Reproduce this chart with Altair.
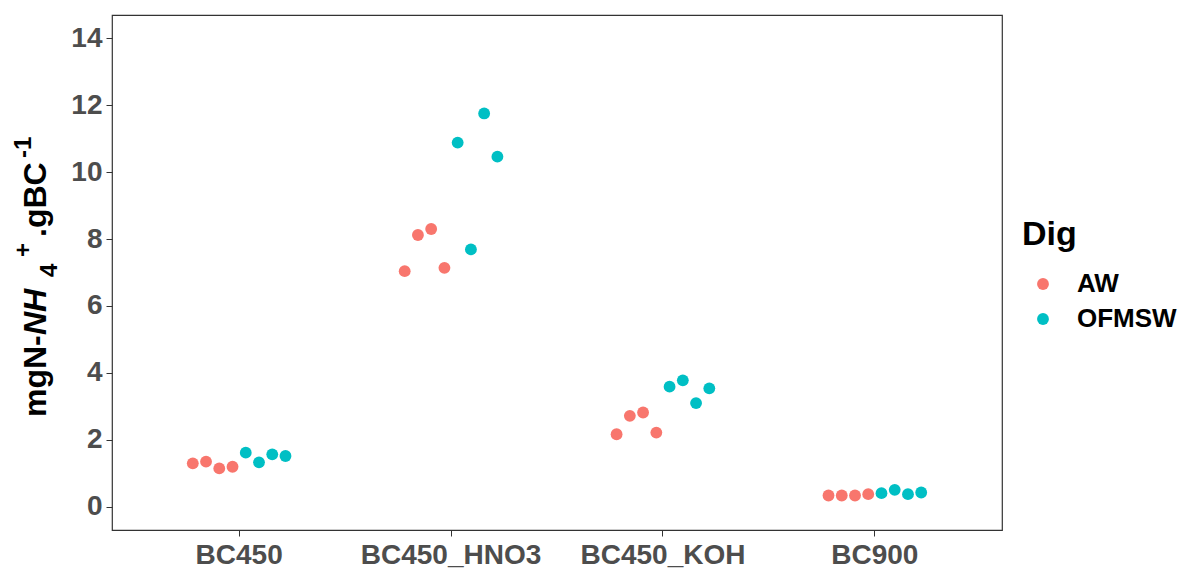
import altair as alt
import pandas as pd

categories = ["BC450", "BC450_HNO3", "BC450_KOH", "BC900"]
digs = ["AW", "OFMSW"]
colors = ["#F8766D", "#00BFC4"]

# replicate values (mgN-NH4+ per gBC)
aw_bc450 = [1.30, 1.35, 1.15, 1.20]
aw_hno3 = [7.04, 8.12, 8.30, 7.14]
aw_koh = [2.17, 2.72, 2.82, 2.22]
aw_bc900 = [0.34, 0.34, 0.34, 0.38]
of_bc450 = [1.62, 1.33, 1.57, 1.52]
of_hno3 = [10.88, 7.69, 11.75, 10.46]
of_koh = [3.59, 3.78, 3.10, 3.54]
of_bc900 = [0.41, 0.51, 0.38, 0.43]

y_ticks = [0, 2, 4, 6, 8, 10, 12, 14]

series = {
    ("AW", "BC450"): aw_bc450,
    ("AW", "BC450_HNO3"): aw_hno3,
    ("AW", "BC450_KOH"): aw_koh,
    ("AW", "BC900"): aw_bc900,
    ("OFMSW", "BC450"): of_bc450,
    ("OFMSW", "BC450_HNO3"): of_hno3,
    ("OFMSW", "BC450_KOH"): of_koh,
    ("OFMSW", "BC900"): of_bc900,
}

rows = []
for (dig, cat), vals in series.items():
    base = 0 if dig == "AW" else 4
    for i, v in enumerate(vals):
        rows.append({"cat": cat, "dig": dig, "slot": str(base + i), "value": v})
df = pd.DataFrame(rows)

FONT = "Liberation Sans"

points = alt.Chart(df).mark_circle(size=140, opacity=1).encode(
    x=alt.X("cat:N", sort=categories,
            scale=alt.Scale(paddingInner=0.5, paddingOuter=0.35),
            axis=alt.Axis(title=None, labelAngle=0, labelPadding=5, labelLimit=400)),
    xOffset=alt.XOffset("slot:N", sort=[str(i) for i in range(8)],
                        scale=alt.Scale(domain=[str(i) for i in range(8)])),
    y=alt.Y("value:Q", scale=alt.Scale(domain=[-0.69, 14.69], nice=False, zero=False),
            axis=alt.Axis(title=None, values=y_ticks, labelPadding=4)),
    color=alt.Color("dig:N", scale=alt.Scale(domain=digs, range=colors),
                    legend=alt.Legend(title="Dig", orient="none", legendX=910, legendY=203,
                                      titleFontSize=34, titleFont=FONT, titleFontWeight="bold",
                                      titleColor="black", titlePadding=19,
                                      labelFontSize=26, labelFont=FONT, labelFontWeight="bold",
                                      labelColor="black", labelOffset=21, symbolOffset=8,
                                      symbolType="circle", symbolSize=140, symbolStrokeWidth=0,
                                      rowPadding=9)),
)

# y-axis title pieces: mgN-NH4+.gBC-1 (italic NH, subscript 4, superscripts)
title_parts = ["mgN-", "NH", "4", "+", ".gBC", "-1"]
title_pos = [(-66, 402, 32, "normal"), (-66, 320, 32, "italic"), (-55, 262, 24, "normal"),
             (-81, 242, 24, "normal"), (-66, 222, 32, "normal"), (-81, 143, 24, "normal")]

layers = [points]
for txt, (px, py, fs, st) in zip(title_parts, title_pos):
    layers.append(
        alt.Chart(pd.DataFrame({"t": [txt]})).mark_text(
            angle=270, align="left", baseline="alphabetic", font=FONT,
            fontSize=fs, fontWeight="bold", fontStyle=st, color="black"
        ).encode(x=alt.value(px), y=alt.value(py), text="t:N")
    )

chart = alt.layer(*layers).properties(
    width=890, height=515,
    autosize=alt.AutoSizeParams(type="none"),
    padding={"left": 104, "top": 7, "right": 186, "bottom": 46},
).configure_axis(
    labelFont=FONT, labelFontWeight="bold", labelFontSize=28, labelColor="#4D4D4D",
    tickColor="#333333", tickSize=6, domain=False, grid=False,
).configure_view(
    stroke="#333333", strokeWidth=1.2,
)

chart.save("out.html", embed_options={"renderer": "svg", "actions": False})
